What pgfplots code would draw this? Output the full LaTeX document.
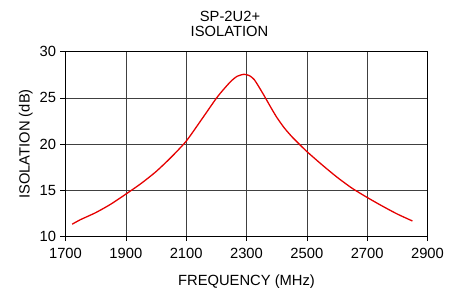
\documentclass[border=0pt]{standalone}
\usepackage{pgfplots}
\pgfplotsset{compat=1.18}
\usepackage{fontspec}
\setmainfont{Liberation Sans}
\begin{document}
\begin{tikzpicture}
\begin{axis}[
  scale only axis,
  width=362bp, height=184.5bp,
  xmin=1700, xmax=2900, ymin=10, ymax=30,
  xtick={1700,1900,...,2900},
  ytick={10,15,...,30},
  grid=major,
  major grid style={draw=black!75, line width=0.6pt},
  axis line style={black, line width=0.8pt},
  tick style={black, line width=0.6pt},
  tick align=outside,
  major tick length=5bp,
  xtick pos=bottom, ytick pos=left,
  /pgf/number format/assume math mode=true,
  /pgf/number format/1000 sep={},
  tick label style={font=\fontsize{14.8}{16}\selectfont},
  xticklabel style={yshift=-3bp},
  yticklabel style={xshift=-1bp},
  xlabel={FREQUENCY (MHz)},
  ylabel={ISOLATION (dB)},
  label style={font=\fontsize{14.8}{16}\selectfont},
  xlabel style={yshift=-10bp},
  ylabel style={yshift=0bp},
]
\addplot[red!90!black, line width=1.3pt, smooth, tension=0.4] coordinates {
(1722,11.3) (1750,11.8) (1800,12.55) (1850,13.47) (1900,14.56) (1950,15.7)
(2000,17.0) (2050,18.55) (2100,20.3) (2150,22.6) (2200,24.95) (2225,25.95)
(2250,26.85) (2270,27.35) (2292,27.55) (2310,27.4) (2325,27.0) (2340,26.25)
(2360,25.15) (2380,24.0) (2400,22.9) (2425,21.75) (2450,20.8) (2475,19.98)
(2500,19.18) (2550,17.75) (2600,16.4) (2650,15.2) (2700,14.2) (2750,13.27)
(2800,12.4) (2850,11.65)
};
\coordinate (bl) at (rel axis cs:0,0);
\end{axis}
\coordinate (O) at ([shift={(-65.5bp,236.2bp)}]bl);
\node[anchor=base, inner sep=0pt, font=\fontsize{14.8}{16}\selectfont] at ([shift={(230bp,-21.7bp)}]O) {SP-2U2+};
\node[anchor=base, inner sep=0pt, font=\fontsize{14.8}{16}\selectfont] at ([shift={(229.5bp,-36.7bp)}]O) {ISOLATION};
\pgfresetboundingbox
\path[use as bounding box] (O) rectangle ([shift={(457bp,-288bp)}]O);
\end{tikzpicture}
\end{document}
